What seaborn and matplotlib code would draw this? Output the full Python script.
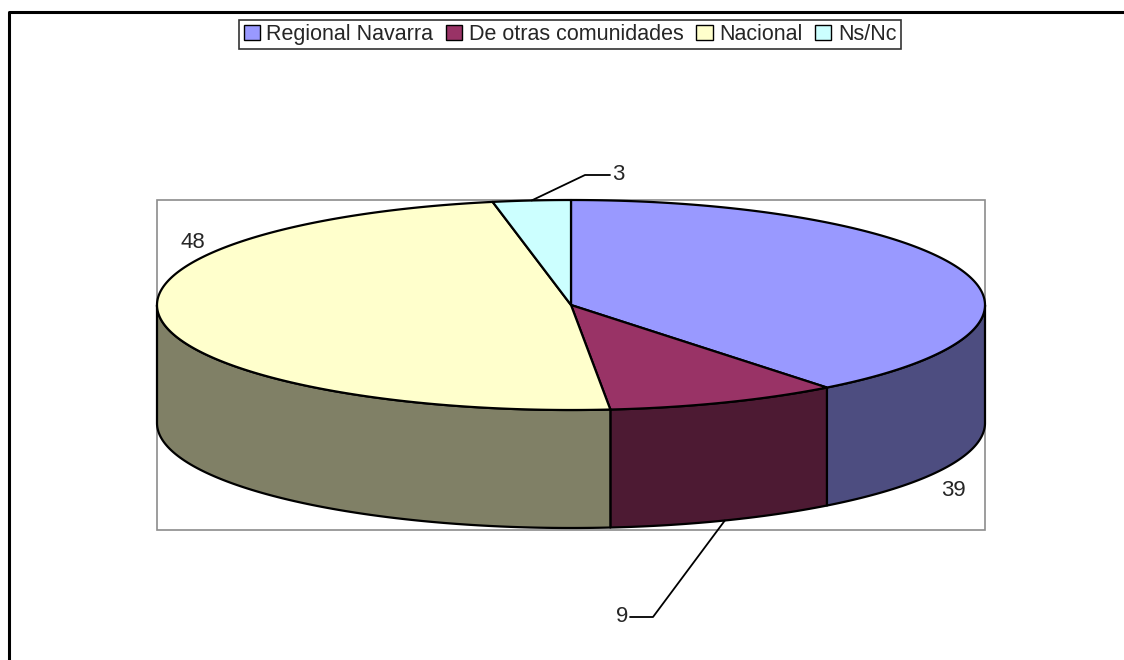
import numpy as np
import matplotlib
matplotlib.use("Agg")
import matplotlib.pyplot as plt
from matplotlib.patches import Polygon, Rectangle, Patch
import seaborn as sns

# ---------------- data ----------------
categories = ["Regional Navarra", "De otras comunidades", "Nacional", "Ns/Nc"]
values = [39, 9, 48, 3]
top_colors = ["#9999FF", "#993366", "#FFFFCC", "#CCFFFF"]
side_colors = ["#4D4D80", "#4D1A33", "#808066", "#668080"]

# ---------------- layout (pixels) ----------------
W, H = 1124, 660
cx, cy = 571, 305          # centre of top ellipse
ra, rb = 414, 105          # ellipse radii
depth = 118                # thickness of the pie
plot_box = (157, 200, 985, 530)
# label text position per slice, plus optional elbow for leader line
label_pos = [(953, 491), (622, 617), (193, 242), (618, 175)]
label_elbow = [None, (653, 617), None, (585, 175)]
label_end = [None, (630, 617), None, (610, 175)]

sns.set_theme(style="white")
plt.rcParams["font.family"] = ["Liberation Sans", "DejaVu Sans"]

fig = plt.figure(figsize=(W / 100, H / 100), dpi=100)
ax = fig.add_axes([0, 0, 1, 1])
ax.set_xlim(0, W)
ax.set_ylim(H, 0)
ax.axis("off")

# outer chart frame (only top and left visible in the crop)
ax.plot([9, 9, W], [H, 12, 12], color="black", lw=2.2, solid_capstyle="butt", zorder=1)

# grey plot-area box
x0, y0, x1, y1 = plot_box
ax.add_patch(Rectangle((x0, y0), x1 - x0, y1 - y0, fill=False,
                       edgecolor="#8C8C8C", lw=1.2, zorder=1))


def ell(theta_deg, dy=0.0):
    t = np.radians(theta_deg)
    return cx + ra * np.sin(t), cy - rb * np.cos(t) + dy


total = sum(values)
bounds = np.concatenate([[0], np.cumsum(values)]) / total * 360.0
edge_kw = dict(edgecolor="black", lw=1.6, joinstyle="round")

# side walls (front half only: 90..270 deg)
for i in range(len(values)):
    t0, t1 = max(bounds[i], 90), min(bounds[i + 1], 270)
    if t1 <= t0:
        continue
    ts = np.linspace(t0, t1, 120)
    top = [ell(t) for t in ts]
    bot = [ell(t, depth) for t in ts[::-1]]
    ax.add_patch(Polygon(top + bot, closed=True, facecolor=side_colors[i],
                         zorder=2, **edge_kw))

# top faces
for i in range(len(values)):
    ts = np.linspace(bounds[i], bounds[i + 1], 200)
    pts = [(cx, cy)] + [ell(t) for t in ts]
    ax.add_patch(Polygon(pts, closed=True, facecolor=top_colors[i],
                         zorder=3, **edge_kw))

# data labels
for i, v in enumerate(values):
    mid = (bounds[i] + bounds[i + 1]) / 2
    tx, ty = label_pos[i]
    if label_elbow[i] is not None:
        on_front = 90 < mid < 270
        ax_, ay_ = ell(mid, depth if on_front else 0)
        ex, ey = label_elbow[i]
        fx, fy = label_end[i]
        ax.plot([ax_, ex, fx], [ay_, ey, fy], color="black", lw=1.3, zorder=4)
        ha = "left" if fx > ex else "right"
        tx = fx + (2 if ha == "left" else -2)
        ax.text(tx, ty, str(v), ha=ha, va="center", fontsize=16, zorder=5)
    else:
        ax.text(tx, ty, str(v), ha="center", va="center", fontsize=16, zorder=5)

# legend
handles = [Patch(facecolor=c, edgecolor="black", lw=1.0) for c in top_colors]
leg = ax.legend(handles, categories, loc="center", ncol=4,
                bbox_to_anchor=(570 / W, 1 - 34.5 / H), bbox_transform=fig.transFigure,
                frameon=True, fancybox=False, edgecolor="black", fontsize=15.5,
                handlelength=0.75, handleheight=0.75, handletextpad=0.3,
                columnspacing=0.6, borderpad=0.2, borderaxespad=0)
leg.get_frame().set_linewidth(1.2)

fig.savefig("out.png", dpi=100, facecolor="white")
